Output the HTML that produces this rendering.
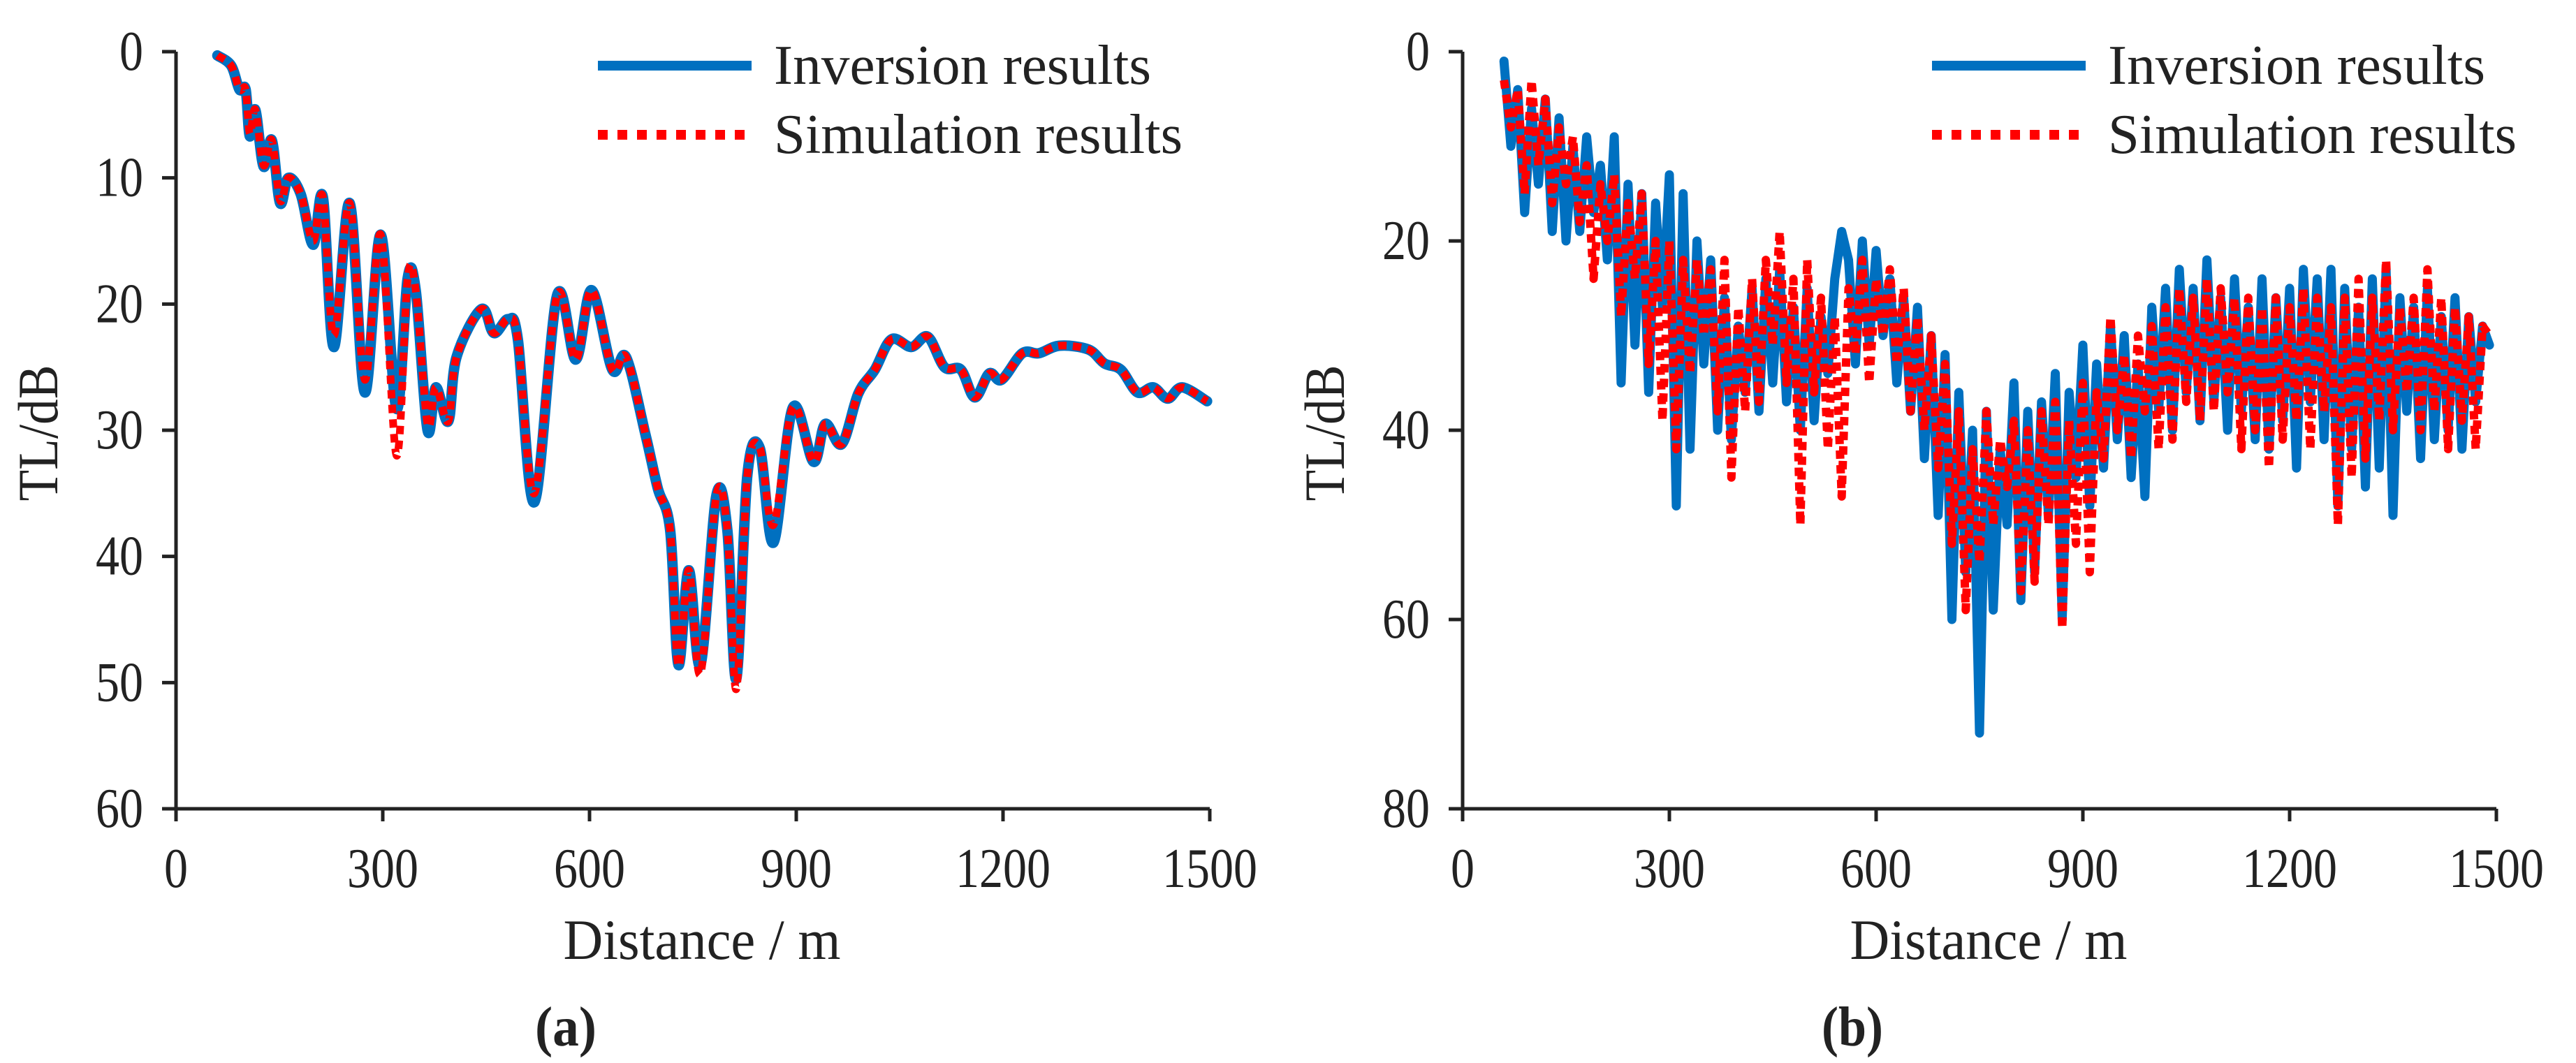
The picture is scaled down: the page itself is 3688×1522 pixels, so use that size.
<!DOCTYPE html>
<html><head><meta charset="utf-8"><style>
html,body{margin:0;padding:0;background:#fff;}
svg{display:block;}
text{font-family:"Liberation Serif",serif;fill:#222;}
</style></head><body>
<svg id="fig" width="3688" height="1522" viewBox="0 0 3688 1522" xmlns="http://www.w3.org/2000/svg"></svg>
<script>
// Panel (a) data
const aDist = [60,80,92,101,107,115,127,139,151,163,181,199,213,229,252,274,297,320,336,348,365,377,395,407,443,461,482,496,520,553,580,603,633,653,681,699,717,729,744,761,784,800,813,829,847,867,895,925,942,966,990,1014,1038,1067,1091,1115,1139,1159,1180,1198,1228,1252,1282,1324,1347,1371,1395,1418,1439,1460,1496];
const aInversion = [0.3,1.1,3,3,6.7,4.6,9.1,7,12,10,11.3,15.3,11.5,23.4,12,27,14.5,28.3,18,19,30,26.6,29.3,24.2,20.4,22.3,21.2,22.8,35.7,19.3,24.4,18.9,25.2,24.2,30.3,34.6,37.9,48.6,41.1,48.6,35.2,37.9,49.7,33.6,31.4,38.9,28.2,32.5,29.5,31.1,27.1,25.2,22.8,23.4,22.6,25,25.2,27.4,25.5,26,23.9,23.9,23.3,23.6,24.7,25.2,27,26.6,27.5,26.6,27.7];
const aSimulation = [0.3,1.1,3,3,6.5,4.6,9,7,11.8,10,11.3,15,11.5,22.5,12,26,14.5,32,18,19,29.5,26.6,29.3,24.2,20.4,22.3,21.2,22.8,35,19.3,24.4,18.9,25.2,24.2,30.3,34.6,37.9,48.7,41.1,49.3,35.2,37.9,50.5,33.6,31.4,37.5,28.2,32.5,29.5,31.1,27.1,25.2,22.8,23.4,22.6,25,25.2,27.4,25.5,26,23.9,23.9,23.3,23.6,24.7,25.2,27,26.6,27.5,26.6,27.7];
const aYTicks = [0,10,20,30,40,50,60];
const xTicks = [0,300,600,900,1200,1500];
// Panel (b) data
const bStart = 60, bStep = 10;
const bInversion = [1,10,4,17,6,14,5,19,7,20, 10,19,9,17,12,22,9,35,14,31, 15,36,16,27,13,48,15,42,20,33, 22,40,26,41,29,36,25,38,24,35, 23,37,27,40,25,39,28,34,24,19, 22,33,20,31,21,30,24,35,26,38, 27,43,30,49,32,60,36,55,40,72, 38,59,42,50,35,58,38,55,37,49, 34,60,36,45,31,48,33,44,29,41, 30,45,33,47,27,38,25,40,23,36, 25,39,22,37,26,40,24,38,27,41, 24,42,26,39,25,44,23,37,24,41, 23,48,25,42,27,46,24,44,23,49, 26,38,27,43,25,41,28,40,26,42, 28,37,29,31];
const bSimulation = [3,8,4,15,3,12,5,16,8,14, 9,18,12,24,14,20,13,28,16,24, 15,33,20,39,20,42,22,34,22,30, 23,38,22,45,27,38,24,37,22,31, 19,35,24,50,22,36,26,42,28,47, 25,32,22,35,24,30,23,33,25,38, 28,40,30,44,33,52,38,59,42,54, 38,50,41,46,39,57,40,56,38,50, 37,61,39,52,35,55,36,43,28,40, 32,43,30,38,29,42,27,41,25,37, 26,39,24,38,25,36,26,42,26,40, 27,44,26,41,27,39,25,42,26,38, 27,50,26,45,24,43,26,39,22,40, 27,36,26,40,23,38,26,42,27,39, 28,42,29,30];
const bYTicks = [0,20,40,60,80];

const NS = "http://www.w3.org/2000/svg";
const svg = document.getElementById('fig');
function mk(tag, attrs, parent){const e=document.createElementNS(NS,tag);for(const k in attrs)e.setAttribute(k,attrs[k]);(parent||svg).appendChild(e);return e;}

function panel(cfg){
  const g = mk('g',{});
  
  
  const x0=cfg.x0, x1=cfg.x0+1480, yT=74, yB=1158;
  const sx = v => x0 + v/1500*(x1-x0);
  const sy = v => yT + v/cfg.ymax*(yB-yT);
  function path(xs, ys){
    const p = xs.map((x,i)=>[sx(x), sy(ys[i])]);
    if(!cfg.smooth) return p.map((q,i)=>(i?'L':'M')+q[0].toFixed(1)+','+q[1].toFixed(1)).join(' ');
    let d='M'+p[0][0].toFixed(1)+','+p[0][1].toFixed(1);
    for(let i=0;i<p.length-1;i++){
      const a=p[Math.max(i-1,0)], b=p[i], c=p[i+1], e=p[Math.min(i+2,p.length-1)];
      const c1=[b[0]+(c[0]-a[0])/6, b[1]+(c[1]-a[1])/6];
      const c2=[c[0]-(e[0]-b[0])/6, c[1]-(e[1]-b[1])/6];
      d+=' C'+c1[0].toFixed(1)+','+c1[1].toFixed(1)+' '+c2[0].toFixed(1)+','+c2[1].toFixed(1)+' '+c[0].toFixed(1)+','+c[1].toFixed(1);
    }
    return d;
  }
  const pb = mk('path',{d:path(cfg.xs,cfg.inv),fill:'none',stroke:'#0070c0','stroke-width':cfg.bw,'stroke-linejoin':'round','stroke-linecap':'round'},g);
  
  
  const pr = mk('path',{d:path(cfg.xs,cfg.sim),fill:'none',stroke:'#ff0000','stroke-width':cfg.rw,'stroke-dasharray':'12,9','stroke-linejoin':'round'},g);
  
  
  const ax = mk('path',{d:`M${x0},${yT} L${x0},${yB} L${x1},${yB}`,fill:'none',stroke:'#222','stroke-width':5},g);
  
  
  cfg.yticks.forEach(t=>{
    mk('line',{x1:x0-20,x2:x0,y1:sy(t),y2:sy(t),stroke:'#222','stroke-width':5},g);
    const tx = mk('text',{x:x0-47,y:sy(t)+26,'font-size':80,'text-anchor':'end',textLength:String(t).length*34,lengthAdjust:'spacingAndGlyphs'},g);
    tx.textContent = t;
    
    
  });
  xTicks.forEach(t=>{
    mk('line',{x1:sx(t),x2:sx(t),y1:yB,y2:yB+18,stroke:'#222','stroke-width':5},g);
    const tx = mk('text',{x:sx(t),y:1270,'font-size':80,'text-anchor':'middle',textLength:String(t).length*34,lengthAdjust:'spacingAndGlyphs'},g);
    tx.textContent = t;
    
    
  });
  const xt = mk('text',{x:x0+753,y:1373,'font-size':82,'text-anchor':'middle',textLength:397,lengthAdjust:'spacingAndGlyphs'},g);
  xt.textContent='Distance / m';
  
  
  const yt = mk('text',{x:0,y:0,'font-size':82,'text-anchor':'middle',textLength:195,lengthAdjust:'spacingAndGlyphs',transform:`translate(${x0-170},620) rotate(-90)`},g);
  yt.textContent='TL/dB';
  
  
  const lab = mk('text',{x:x0+558,y:1497,'font-size':80,'font-weight':'bold','text-anchor':'middle',textLength:88,lengthAdjust:'spacingAndGlyphs'},g);
  lab.textContent=cfg.label;
  
  
  const lx = cfg.legX;
  const l1 = mk('line',{x1:lx,x2:lx+220,y1:94,y2:94,stroke:'#0070c0','stroke-width':14},g);
  
  
  const t1 = mk('text',{x:lx+252,y:120,'font-size':80,textLength:540,lengthAdjust:'spacingAndGlyphs'},g);
  t1.textContent='Inversion results';
  
  
  const l2 = mk('line',{x1:lx,x2:lx+220,y1:193,y2:193,stroke:'#ff0000','stroke-width':14,'stroke-dasharray':'14,14'},g);
  
  
  const t2 = mk('text',{x:lx+252,y:219,'font-size':80,textLength:585,lengthAdjust:'spacingAndGlyphs'},g);
  t2.textContent='Simulation results';
  
  
}

const bDist = bInversion.map((_,i)=>bStart+i*bStep);
panel({name:'panel-a',x0:252,ymax:60,yticks:aYTicks,xs:aDist,inv:aInversion,sim:aSimulation,label:'(a)',legX:856,smooth:true,bw:15,rw:11});
panel({name:'panel-b',x0:2094,ymax:80,yticks:bYTicks,xs:bDist,inv:bInversion,sim:bSimulation,label:'(b)',legX:2766,smooth:false,bw:13,rw:12});
</script>
</body></html>
